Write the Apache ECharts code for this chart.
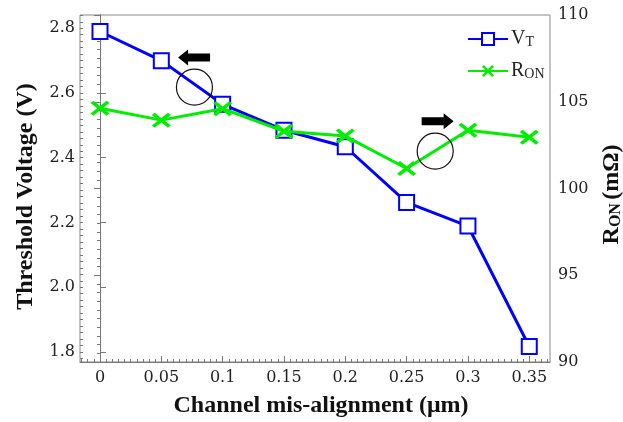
<!DOCTYPE html>
<html>
<head>
<meta charset="utf-8">
<script src="https://cdn.jsdelivr.net/npm/echarts@6/dist/echarts.min.js"></script>
<style>
  html, body { margin: 0; padding: 0; background: #fff; }
  #main { width: 623px; height: 422px; }
</style>
</head>
<body>
<div id="main"></div>
<script>
// 数据
var misAlign = [0, 0.05, 0.1, 0.15, 0.2, 0.25, 0.3, 0.35]
var vtValues = [2.79, 2.70, 2.565, 2.485, 2.434, 2.262, 2.189, 1.817]
var ronValues = [104.63, 103.94, 104.6, 103.3, 103.02, 101.15, 103.36, 102.96]

var xTickLabels = [0, 0.05, 0.1, 0.15, 0.2, 0.25, 0.3, 0.35]
var vtTickLabels = [1.8, 2.0, 2.2, 2.4, 2.6, 2.8]

// 小刻度
function minorValues (from, to, step) {
  var arr = []
  var n = Math.round((to - from) / step)
  for (var i = 0; i <= n; i++) {
    arr.push(+(from + i * step).toFixed(4))
  }
  return arr
}

var serifFont = 'DejaVu Serif'
var titleFont = 'Liberation Serif'
var axisColor = '#777'

var arrowLeft = 'path://M0,8 L10,0 L10,4 L32,4 L32,12 L10,12 L10,16 Z'
var arrowRight = 'path://M32,8 L22,0 L22,4 L0,4 L0,12 L22,12 L22,16 Z'
var xMark = 'path://M0,3 L3,0 L10,7 L17,0 L20,3 L13,10 L20,17 L17,20 L10,13 L3,20 L0,17 L7,10 Z'

function pairs (xs, ys) {
  return xs.map(function (x, i) { return [x, ys[i]] })
}

var myChart = echarts.init(document.getElementById('main'))
var option = {
  animation: false,
  grid: {
    left: 80,
    top: 15,
    right: 73,
    bottom: 60,
    outerBoundsMode: 'none',
    containLabel: false,
    show: true,
    borderColor: '#888',
    borderWidth: 1
  },
  legend: {
    orient: 'vertical',
    left: 467,
    top: 29,
    padding: 0,
    itemWidth: 40,
    itemHeight: 15,
    itemGap: 12,
    data: ['VT', 'RON'],
    formatter: function (name) {
      return '{a|' + name.charAt(0) + '}{b|' + name.slice(1) + '}'
    },
    textStyle: {
      color: '#222',
      padding: [0, 0, 0, -2],
      rich: {
        a: { fontFamily: titleFont, fontSize: 20, color: '#222' },
        b: { fontFamily: titleFont, fontSize: 14, color: '#222', padding: [6, 0, 0, 0] }
      }
    }
  },
  xAxis: [{
    type: 'value',
    min: -0.0163,
    max: 0.3669,
    position: 'bottom',
    splitLine: { show: false },
    axisLine: { lineStyle: { color: axisColor, width: 1 } },
    axisTick: {
      inside: true,
      length: 6,
      customValues: xTickLabels,
      lineStyle: { color: axisColor }
    },
    axisLabel: {
      customValues: xTickLabels,
      margin: 8,
      fontFamily: serifFont,
      fontSize: 16,
      color: '#222'
    },
    name: 'Channel mis-alignment (μm)',
    nameLocation: 'middle',
    nameGap: 32,
    nameTextStyle: { fontFamily: titleFont, fontWeight: 'bold', fontSize: 24, color: '#111', padding: [0, 0, 0, 12] }
  }, {
    // 小刻度
    type: 'value',
    min: -0.0163,
    max: 0.3669,
    position: 'bottom',
    splitLine: { show: false },
    axisLine: { show: false },
    axisLabel: { show: false },
    axisTick: {
      inside: true,
      length: 3,
      customValues: minorValues(-0.015, 0.365, 0.005),
      lineStyle: { color: axisColor }
    }
  }],
  yAxis: [{
    type: 'value',
    min: 1.769,
    max: 2.841,
    position: 'left',
    splitLine: { show: false },
    axisLine: { show: true, lineStyle: { color: axisColor, width: 1 } },
    axisTick: {
      show: true,
      inside: true,
      length: 6,
      customValues: vtTickLabels,
      lineStyle: { color: axisColor }
    },
    axisLabel: {
      customValues: vtTickLabels,
      margin: 5,
      fontFamily: serifFont,
      fontSize: 16,
      color: '#222',
      formatter: function (v) { return v.toFixed(1) }
    },
    name: 'Threshold Voltage (V)',
    nameLocation: 'middle',
    nameRotate: 90,
    nameGap: 42,
    nameTextStyle: { fontFamily: titleFont, fontWeight: 'bold', fontSize: 24, color: '#111', padding: [0, 16, 0, 0] }
  }, {
    type: 'value',
    min: 90,
    max: 110,
    interval: 5,
    position: 'right',
    splitLine: { show: false },
    axisLine: { show: true, lineStyle: { color: axisColor, width: 1 } },
    axisTick: { show: true, inside: true, length: 6, lineStyle: { color: axisColor } },
    minorTick: { show: true, splitNumber: 10, length: 3, lineStyle: { color: axisColor } },
    axisLabel: {
      margin: 8,
      fontFamily: serifFont,
      fontSize: 16,
      color: '#222'
    },
    name: '{a|R}{b|ON} {a|(mΩ)}',
    nameLocation: 'middle',
    nameRotate: 90,
    nameGap: 40,
    nameTextStyle: {
      color: '#111',
      padding: [0, 12, 0, 0],
      rich: {
        a: { fontFamily: titleFont, fontWeight: 'bold', fontSize: 24, color: '#111' },
        b: { fontFamily: titleFont, fontWeight: 'bold', fontSize: 16, color: '#111', padding: [8, 0, 0, 0] }
      }
    }
  }, {
    // 左轴小刻度
    type: 'value',
    min: 1.769,
    max: 2.841,
    position: 'left',
    splitLine: { show: false },
    axisLine: { show: false },
    axisLabel: { show: false },
    axisTick: {
      show: true,
      inside: true,
      length: 3,
      customValues: minorValues(1.78, 2.84, 0.02),
      lineStyle: { color: axisColor }
    }
  }],
  series: [{
    name: 'VT',
    type: 'line',
    xAxisIndex: 0,
    yAxisIndex: 0,
    data: pairs(misAlign, vtValues),
    symbol: 'emptyRect',
    symbolSize: 15,
    lineStyle: { color: '#0000ff', width: 3 },
    itemStyle: { color: '#0000ff', borderColor: '#0000ff', borderWidth: 3 },
    z: 3,
    markPoint: {
      label: { show: false },
      silent: true,
      data: [{
        coord: [0.077, 2.618],
        symbol: 'circle',
        symbolSize: 36,
        itemStyle: { color: 'rgba(0,0,0,0)', borderColor: '#111', borderWidth: 1.2 }
      }, {
        coord: [0.0767, 2.71],
        symbol: arrowLeft,
        symbolSize: [32, 16],
        itemStyle: { color: '#000' }
      }]
    }
  }, {
    name: 'RON',
    type: 'line',
    xAxisIndex: 0,
    yAxisIndex: 1,
    data: pairs(misAlign, ronValues),
    symbol: xMark,
    symbolSize: [19, 15],
    lineStyle: { color: '#00ee00', width: 3 },
    itemStyle: { color: '#00ee00' },
    z: 4,
    markPoint: {
      label: { show: false },
      silent: true,
      data: [{
        coord: [0.2733, 102.15],
        symbol: 'circle',
        symbolSize: 36,
        itemStyle: { color: 'rgba(0,0,0,0)', borderColor: '#111', borderWidth: 1.2 }
      }, {
        coord: [0.2753, 103.88],
        symbol: arrowRight,
        symbolSize: [32, 16],
        itemStyle: { color: '#000' }
      }]
    }
  }]
}
myChart.setOption(option)
</script>
</body>
</html>
